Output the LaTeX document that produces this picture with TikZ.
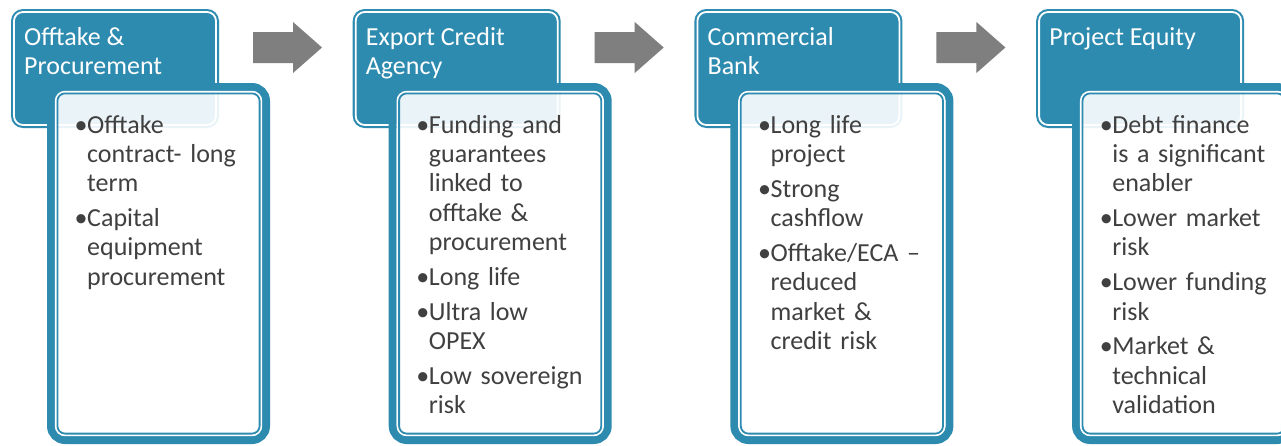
\documentclass[tikz,border=0pt]{standalone}
\usepackage{fontspec}
\setmainfont{Carlito}
\definecolor{acc}{RGB}{46,139,176}
\definecolor{txt}{RGB}{64,64,64}
\definecolor{arr}{RGB}{127,127,127}
\newcommand{\bitem}[1]{\hangindent=12.5pt\hangafter=1\noindent\rule{0pt}{22pt}\makebox[12.5pt][l]{•}#1\par}
\tikzset{
  headtext/.style={anchor=north west,inner sep=0pt,align=left,text=white,font=\fontsize{26}{29.3}\selectfont},
  bodytext/.style={anchor=north west,inner sep=0pt,text width=185pt,text=txt,font=\fontsize{26}{29.3}\selectfont},
  blockarrow/.style={fill=arr}
}
\newcommand{\stage}[4]{%
  \begin{scope}[xshift=#1pt]
    \fill[acc,rounded corners=12pt] (11,9) rectangle (219,128);
    \draw[white,line width=1.8pt,rounded corners=9pt] (14,12) rectangle (216,125);
    \node[headtext] (h#2) at (24,23) {\rule{0pt}{22pt}#3};
    \fill[white,opacity=0.9,rounded corners=9pt] (56,92) rectangle (261,435);
    \draw[acc,line width=8pt,rounded corners=14pt] (51,87) rectangle (266,440);
    \draw[white,line width=1.6pt,rounded corners=9.4pt] (55.6,91.6) rectangle (261.4,435.4);
    \draw[acc,line width=1.8pt,rounded corners=7.6pt] (57.4,93.4) rectangle (259.6,433.6);
    \node[bodytext] (b#2) at (74.5,111) {\raggedright\parindent=0pt\parskip=5.5pt\let\\\newline #4};
  \end{scope}}
\newcommand{\blkarrow}[1]{%
  \begin{scope}[xshift=#1pt]
    \fill[blockarrow] (253,32) -- (293,32) -- (293,22) -- (322,47.5) -- (293,73) -- (293,63) -- (253,63) -- cycle;
  \end{scope}}
\begin{document}
\begin{tikzpicture}[x=1pt,y=-1pt]
\useasboundingbox (0,0) rectangle (1281,445);
\clip (0,0) rectangle (1281,445);
\fill[white] (0,0) rectangle (1281,445);
\stage{0}{1}{Offtake \&\\Procurement}{\bitem{Offtake\\contract- long\\term}\bitem{Capital\\equipment\\procurement}}
\stage{341.7}{2}{Export Credit\\Agency}{\bitem{Funding and\\guarantees\\linked to\\offtake \&\\procurement}\bitem{Long life}\bitem{Ultra low\\OPEX}\bitem{Low sovereign\\risk}}
\stage{683.4}{3}{Commercial\\Bank}{\bitem{Long life\\project}\bitem{Strong\\cashflow}\bitem{Offtake/ECA –\\reduced\\market \&\\credit risk}}
\stage{1025.1}{4}{Project Equity}{\bitem{Debt finance\\is a significant\\enabler}\bitem{Lower market\\risk}\bitem{Lower funding\\risk}\bitem{Market \&\\technical\\validation}}
\blkarrow{0}
\blkarrow{341.7}
\blkarrow{683.4}
\end{tikzpicture}
\end{document}
